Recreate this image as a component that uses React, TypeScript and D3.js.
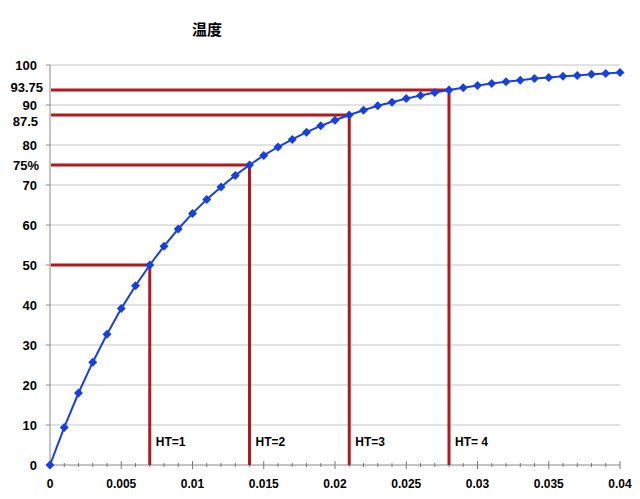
import React from "react";
import * as d3 from "d3";

const xValues = [0, 0.001, 0.002, 0.003, 0.004, 0.005, 0.006, 0.007, 0.008, 0.009, 0.01, 0.011, 0.012, 0.013, 0.014, 0.015, 0.016, 0.017, 0.018, 0.019, 0.02, 0.021, 0.022, 0.023, 0.024, 0.025, 0.026, 0.027, 0.028, 0.029, 0.03, 0.031, 0.032, 0.033, 0.034, 0.035, 0.036, 0.037, 0.038, 0.039, 0.04];
const temperature = [0, 9.4, 18.0, 25.7, 32.7, 39.1, 44.8, 50, 54.7, 59.0, 62.9, 66.4, 69.5, 72.4, 75, 77.4, 79.5, 81.4, 83.2, 84.8, 86.2, 87.5, 88.7, 89.8, 90.7, 91.6, 92.4, 93.1, 93.75, 94.3, 94.9, 95.4, 95.8, 96.2, 96.6, 96.9, 97.2, 97.4, 97.7, 97.9, 98.1];
const yTicks = [0, 10, 20, 30, 40, 50, 60, 70, 80, 90, 100];
const yExtraValues = [93.75, 87.5, 75];
const yExtraText = ["93.75", "87.5", "75%"];
const xTickLabels = [0, 0.005, 0.01, 0.015, 0.02, 0.025, 0.03, 0.035, 0.04];
const xLabelText = ["0", "0.005", "0.01", "0.015", "0.02", "0.025", "0.03", "0.035", "0.04"];
const htX = [0.007, 0.014, 0.021, 0.028];
const htY = [50, 75, 87.5, 93.75];
const htLabels = ["HT=1", "HT=2", "HT=3", "HT= 4"];
const title = "温度";

export default function App() {
  const W = 640, H = 499;
  const x = d3.scaleLinear().domain([0, 0.04]).range([50, 620]);
  const y = d3.scaleLinear().domain([0, 100]).range([465, 65]);
  const line = d3.line<number>().x((_, i) => x(xValues[i])).y((d) => y(d));
  const minor = d3.range(0, 41).map((i) => i * 0.001);
  const font = "'Liberation Sans', Arial, sans-serif";
  const red = "#b0191e";
  const blue = "#1740e0";
  const r = 4.5;
  const diamond = `M0,${-r}L${r},0L0,${r}L${-r},0Z`;
  // label nudges so the crowded labels near 90 do not collide
  const extraDy = [-3, 6, 0];
  const extraX = [43, 38, 39];

  return (
    <svg width={W} height={H} style={{ position: "absolute", left: 0, top: 0, background: "#fff" }} fontFamily={font}>
      <rect width={W} height={H} fill="#fff" />
      <text x={207} y={35} textAnchor="middle" fontSize={15} fontWeight="bold" fontFamily="'Noto Sans CJK SC', sans-serif">{title}</text>
      {yTicks.map((t) => (
        <g key={t}>
          {t > 0 && <line x1={50} x2={620} y1={y(t)} y2={y(t)} stroke="#c4c4c4" strokeWidth={1} />}
          <line x1={46} x2={50} y1={y(t)} y2={y(t)} stroke="#888" />
          <text x={37} y={y(t)} dy="0.35em" textAnchor="end" fontSize={13} fontWeight="bold">{t}</text>
        </g>
      ))}
      {yExtraValues.map((v, i) => (
        <text key={i} x={extraX[i]} y={y(v) + extraDy[i]} dy="0.35em" textAnchor="end" fontSize={13} fontWeight="bold">{yExtraText[i]}</text>
      ))}
      <line x1={50} x2={50} y1={65} y2={465} stroke="#888" />
      <line x1={50} x2={620} y1={465} y2={465} stroke="#888" />
      {minor.map((m, i) => (
        <line key={i} x1={x(m)} x2={x(m)} y1={i % 5 === 0 ? 461 : 463} y2={i % 5 === 0 ? 469 : 467} stroke="#777" />
      ))}
      {xTickLabels.map((v, i) => (
        <text key={i} x={x(v)} y={484} dy="0.35em" textAnchor="middle" fontSize={12} fontWeight="bold">{xLabelText[i]}</text>
      ))}
      {htX.map((hx, i) => (
        <g key={i}>
          <line x1={51} x2={x(hx)} y1={y(htY[i])} y2={y(htY[i])} stroke={red} strokeWidth={3} />
          <line x1={x(hx)} x2={x(hx)} y1={y(htY[i])} y2={y(0)} stroke={red} strokeWidth={3} />
          <text x={x(hx) + 6} y={442} dy="0.35em" fontSize={12} fontWeight="bold">{htLabels[i]}</text>
        </g>
      ))}
      <path d={line(temperature) || ""} fill="none" stroke={blue} strokeWidth={2} />
      {temperature.map((v, i) => (
        <path key={i} d={diamond} transform={`translate(${x(xValues[i])},${y(v)})`} fill={blue} />
      ))}
    </svg>
  );
}
